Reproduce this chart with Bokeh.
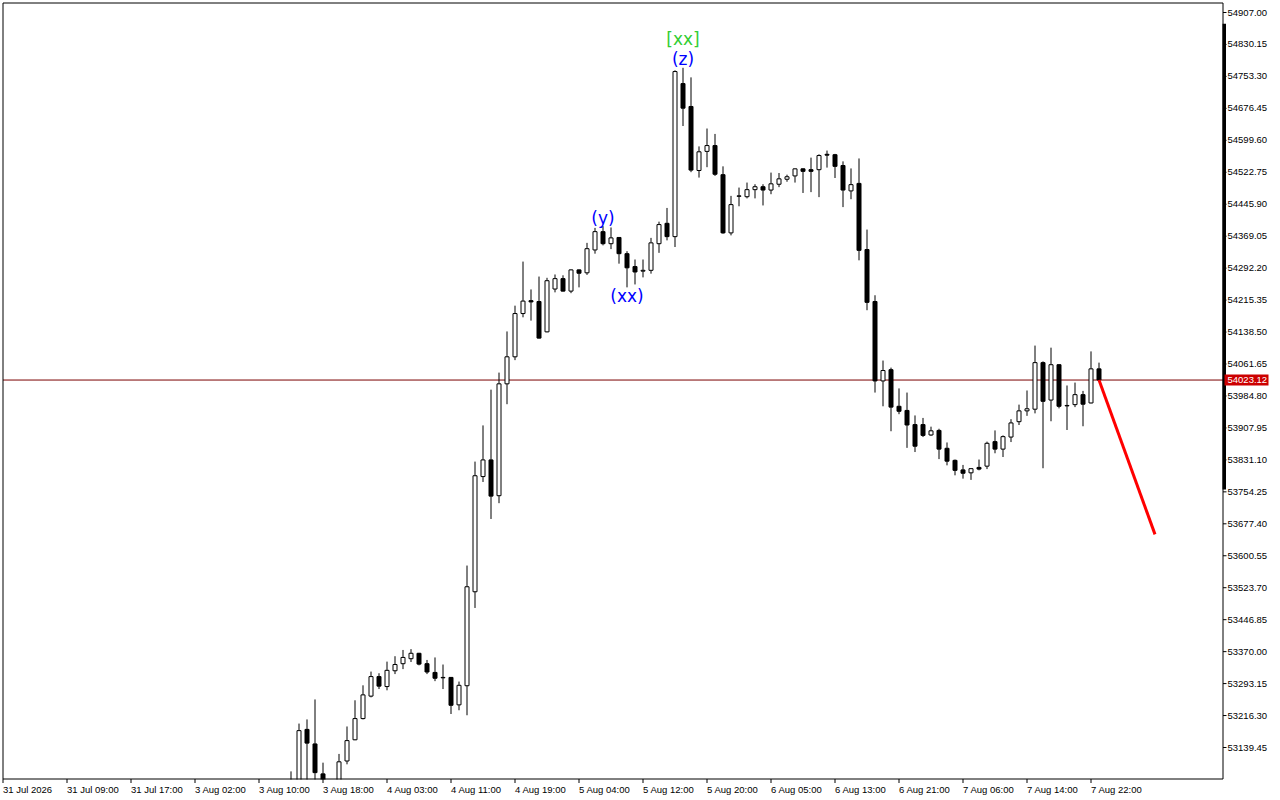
from bokeh.plotting import figure
from bokeh.models import ColumnDataSource, Range1d
from bokeh.core.properties import value
from bokeh.embed import file_html
from bokeh.resources import INLINE

# ---------------- data (hourly bars, index 0 = 31 Jul 2026 00:00) ----------------
first_bar = 36
opens = [53030, 53040, 53183, 53148, 53076, 53020, 53040, 53107, 53158, 53209,
         53263, 53310, 53286, 53324, 53341, 53353, 53366, 53341, 53320, 53307,
         53308, 53242, 53288, 53514, 53791, 53831, 53745, 54014, 54079, 54183,
         54214, 54212, 54139, 54242, 54267, 54237, 54288, 54281, 54336, 54380,
         54351, 54366, 54327, 54296, 54285, 54287, 54351, 54400, 54368, 54736,
         54681, 54527, 54573, 54587, 54517, 54377, 54465, 54464, 54481, 54488,
         54480, 54494, 54506, 54514, 54531, 54529, 54529, 54566, 54565, 54539,
         54478, 54496, 54337, 54212, 54021, 54048, 53960, 53950, 53916, 53916,
         53891, 53902, 53859, 53830, 53807, 53800, 53813, 53816, 53875, 53857,
         53886, 53923, 53949, 53953, 54065, 53975, 54060, 53961, 53964, 53988,
         53968, 54050]
highs = [53082, 53197, 53207, 53255, 53103, 53060, 53124, 53190, 53253, 53289,
         53322, 53318, 53346, 53359, 53374, 53376, 53367, 53350, 53356, 53339,
         53309, 53298, 53577, 53827, 53914, 54000, 54041, 54140, 54202, 54308,
         54241, 54272, 54269, 54277, 54275, 54289, 54289, 54353, 54389, 54393,
         54390, 54367, 54333, 54313, 54313, 54365, 54404, 54437, 54768, 54774,
         54751, 54585, 54628, 54615, 54537, 54466, 54486, 54498, 54494, 54494,
         54522, 54521, 54517, 54532, 54532, 54558, 54566, 54575, 54567, 54549,
         54532, 54556, 54385, 54227, 54070, 54053, 54003, 53993, 53938, 53932,
         53911, 53906, 53873, 53832, 53819, 53811, 53832, 53875, 53902, 53890,
         53929, 53964, 53998, 54106, 54068, 54101, 54061, 54010, 54017, 53997,
         54092, 54065]
lows = [52990, 53010, 53040, 53040, 53000, 52990, 53020, 53099, 53157, 53207,
        53260, 53280, 53277, 53316, 53328, 53345, 53337, 53316, 53299, 53280,
        53220, 53229, 53217, 53475, 53778, 53689, 53727, 53965, 54071, 54174,
        54166, 54123, 54138, 54234, 54236, 54232, 54246, 54276, 54327, 54347,
        54338, 54303, 54246, 54253, 54270, 54279, 54329, 54359, 54343, 54634,
        54523, 54510, 54535, 54514, 54375, 54371, 54441, 54460, 54460, 54443,
        54470, 54487, 54500, 54498, 54473, 54475, 54463, 54534, 54509, 54439,
        54458, 54311, 54191, 53993, 53960, 53900, 53941, 53860, 53850, 53886,
        53889, 53833, 53818, 53794, 53786, 53783, 53806, 53809, 53847, 53838,
        53874, 53915, 53937, 53943, 53811, 53924, 53955, 53903, 53958, 53912,
        53967, 54022]
closes = [53050, 53180, 53150, 53079, 53030, 53040, 53105, 53156, 53209, 53266,
          53310, 53287, 53325, 53339, 53356, 53366, 53340, 53321, 53306, 53308,
          53241, 53289, 53526, 53793, 53831, 53744, 54014, 54079, 54183, 54213,
          54211, 54124, 54262, 54267, 54237, 54288, 54280, 54339, 54380, 54351,
          54365, 54327, 54293, 54283, 54287, 54353, 54397, 54368, 54765, 54677,
          54528, 54572, 54587, 54518, 54377, 54445, 54466, 54481, 54488, 54480,
          54495, 54507, 54512, 54531, 54525, 54525, 54563, 54564, 54537, 54480,
          54493, 54335, 54210, 54021, 54046, 53958, 53948, 53915, 53864, 53890,
          53901, 53857, 53828, 53806, 53799, 53810, 53809, 53871, 53857, 53887,
          53920, 53949, 53954, 54065, 53972, 54060, 53960, 53962, 53988, 53965,
          54050, 54023.12]
bar_index = list(range(first_bar, first_bar + len(opens)))

time_label_bars = [0, 8, 16, 24, 32, 40, 48, 56, 64, 72, 80, 88, 96, 104, 112, 120, 128, 136]
time_labels = ["31 Jul 2026", "31 Jul 09:00", "31 Jul 17:00", "3 Aug 02:00", "3 Aug 10:00",
               "3 Aug 18:00", "4 Aug 03:00", "4 Aug 11:00", "4 Aug 19:00", "5 Aug 04:00",
               "5 Aug 12:00", "5 Aug 20:00", "6 Aug 05:00", "6 Aug 13:00", "6 Aug 21:00",
               "7 Aug 06:00", "7 Aug 14:00", "7 Aug 22:00"]

price_tick_start = 53139.45
price_tick_step = 76.85
price_ticks = [price_tick_start + price_tick_step * k for k in range(24)]

last_price = 54023.12
forecast_bars = [137, 144]
forecast_prices = [54023.12, 53652]

wave_texts = ["[xx]", "(z)", "(y)", "(xx)"]
wave_bars = [85, 85, 75, 78]
wave_prices = [54844, 54796, 54414, 54226]
wave_colors = ["#32cd32", "#0000ff", "#0000ff", "#0000ff"]

range_bar_top = 54880
range_bar_bottom = 53760

# ---------------- layout helpers (pixel <-> data) ----------------
W, H = 1272, 798
BAR_PX = 8.0
x_start = -2.5 / BAR_PX
x_end = x_start + W / BAR_PX
ppx = (price_ticks[-1] - price_ticks[0]) / 735.0      # price units per pixel
y_top = price_ticks[-1] + 12 * ppx
y_bot = y_top - H * ppx


def X(px):
    return x_start + px / BAR_PX


def Y(py):
    return y_top - py * ppx


FONT = "Liberation Sans"

p = figure(frame_width=W, frame_height=H,
           x_range=Range1d(x_start, x_end), y_range=Range1d(y_bot, y_top),
           output_backend="svg", toolbar_location=None,
           x_axis_location=None, y_axis_location=None, min_border=0)
p.grid.visible = False
p.outline_line_color = None
p.background_fill_color = "white"
p.border_fill_color = "white"

cl, cr = X(2.5), X(1222.5)
ct, cb = Y(2.5), Y(778.5)

# bid line
p.segment(x0=[cl], y0=[last_price], x1=[cr], y1=[last_price], line_color="#7a0000", line_width=1)

# candles
tops = [max(o, c) for o, c in zip(opens, closes)]
bottoms = [min(o, c) for o, c in zip(opens, closes)]
fills = ["white" if c >= o else "black" for o, c in zip(opens, closes)]
src = ColumnDataSource(dict(x=bar_index, high=highs, low=lows, top=tops, bottom=bottoms, fill=fills))
p.segment(x0="x", y0="high", x1="x", y1="low", line_color="black", line_width=1, source=src)
p.vbar(x="x", width=0.5, top="top", bottom="bottom", fill_color="fill",
       line_color="black", line_width=1, source=src)

# forecast line
p.line(forecast_bars, forecast_prices, line_color="#ff0000", line_width=3)

# wave labels
p.text(x=wave_bars, y=wave_prices, text=wave_texts, text_color=wave_colors,
       text_font=value("DejaVu Sans"), text_font_size="17px",
       text_align="center", text_baseline="middle")

# mask below / right of the chart area (time-scale and price-scale area)
p.quad(left=[X(0)], right=[X(W)], top=[Y(779)], bottom=[y_bot], fill_color="white", line_color=None)
p.quad(left=[X(1223)], right=[X(W)], top=[y_top], bottom=[y_bot], fill_color="white", line_color=None)

# chart border
p.multi_line(xs=[[cl, cr, cr, cl, cl]], ys=[[ct, ct, cb, cb, ct]], line_color="black", line_width=1)

# price scale
p.quad(left=[X(1222)], right=[X(1225.5)], top=[range_bar_top], bottom=[range_bar_bottom],
       fill_color="black", line_color=None)
p.segment(x0=[cr] * len(price_ticks), x1=[X(1226)] * len(price_ticks),
          y0=price_ticks, y1=price_ticks, line_color="black", line_width=1)
p.text(x=[X(1227)] * len(price_ticks), y=price_ticks, text=[f"{t:.2f}" for t in price_ticks],
       text_color="black", text_font=value(FONT), text_font_size="9.5px",
       text_align="left", text_baseline="middle")

# current price tag
p.quad(left=[X(1224)], right=[X(1268)], top=[last_price + 5.5 * ppx], bottom=[last_price - 5.5 * ppx],
       fill_color="#cc0000", line_color=None)
p.text(x=[X(1227)], y=[last_price], text=[f"{last_price:.2f}"], text_color="white",
       text_font=value(FONT), text_font_size="9.5px", text_align="left", text_baseline="middle")

# time scale
p.segment(x0=time_label_bars, x1=time_label_bars,
          y0=[cb] * len(time_label_bars), y1=[Y(782.5)] * len(time_label_bars),
          line_color="black", line_width=1)
p.text(x=time_label_bars, y=[Y(789)] * len(time_label_bars), text=time_labels,
       text_color="black", text_font=value(FONT), text_font_size="9.5px",
       text_align="left", text_baseline="middle")

open("out.html", "w").write(file_html(p, INLINE))
